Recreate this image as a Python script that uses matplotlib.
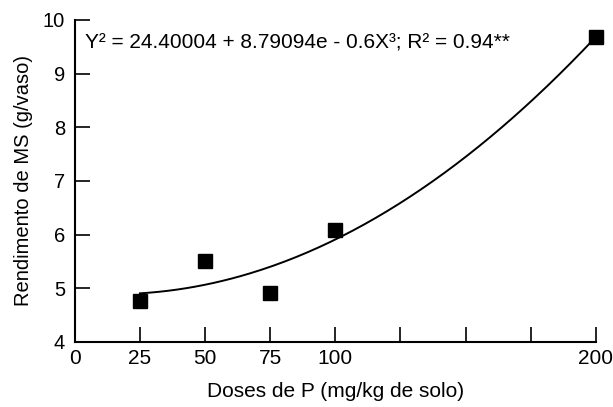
import numpy as np
import matplotlib
matplotlib.use("Agg")
import matplotlib.pyplot as plt

plt.rcParams['font.family'] = ['Liberation Sans', 'DejaVu Sans']

# data
doses = [25, 50, 75, 100, 200]
rendimento = [4.77, 5.5, 4.92, 6.09, 9.68]
x_ticks = [0, 25, 50, 75, 100, 125, 150, 175, 200]
x_ticklabels = ['0', '25', '50', '75', '100', '', '', '', '200']
y_ticks = [4, 5, 6, 7, 8, 9, 10]
equation = "Y\u00b2 = 24.40004 + 8.79094e - 0.6X\u00b3; R\u00b2 = 0.94**"

fig = plt.figure(figsize=(6.13, 4.07), dpi=100)
ax = fig.add_axes([0.122, 0.160, 0.850, 0.791])

# quadratic trend through the points
coef = np.polyfit(doses, rendimento, 2)
xs = np.linspace(min(doses), max(doses), 200)
ax.plot(xs, np.polyval(coef, xs), color='black', lw=1.4, clip_on=False)
ax.plot(doses, rendimento, 's', color='black', ms=9.5, clip_on=False)

ax.set_xlim(0, 200)
ax.set_ylim(4, 10)
ax.set_xticks(x_ticks)
ax.set_xticklabels(x_ticklabels)
ax.set_yticks(y_ticks)
ax.tick_params(direction='in', length=11, width=1.2, pad=6)
ax.tick_params(axis='x', labelsize=15, pad=5)
ax.tick_params(axis='y', labelsize=14.5, pad=7)
for s in ['top', 'right']:
    ax.spines[s].set_visible(False)
for s in ['left', 'bottom']:
    ax.spines[s].set_linewidth(1.5)

ax.set_xlabel("Doses de P (mg/kg de solo)", fontsize=15, labelpad=10)
ax.set_ylabel("Rendimento de MS (g/vaso)", fontsize=14.5, labelpad=7)
ax.text(4, 9.57, equation, fontsize=15, va='center', ha='left')

fig.savefig("out.png", dpi=100)
